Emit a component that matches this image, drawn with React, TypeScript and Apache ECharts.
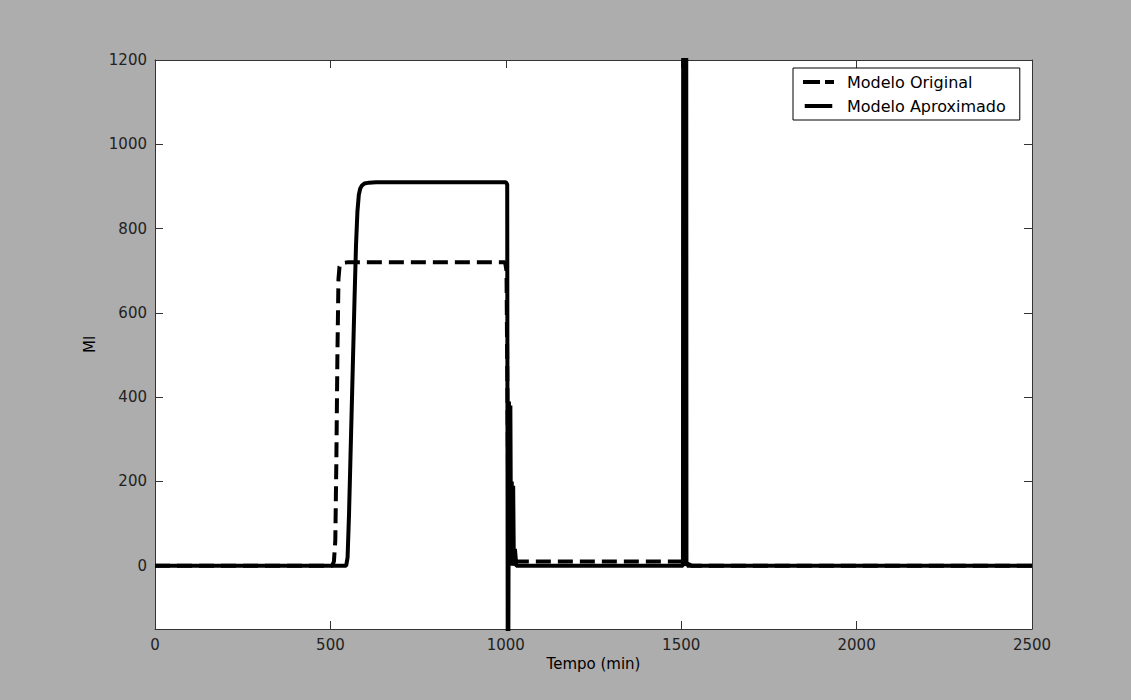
import React, { useEffect, useRef } from "react";
import * as echarts from "echarts";

const xTicks = [0, 500, 1000, 1500, 2000, 2500];
const yTicks = [0, 200, 400, 600, 800, 1000, 1200];
const seriesNames = ["Modelo Original", "Modelo Aproximado"];
const xLabel = "Tempo (min)";
const yLabel = "Ml";

// Modelo Original (dashed)
const originalT = [0, 505, 510, 514, 517, 520, 523, 526, 530, 538, 550, 998, 1002, 1008, 1015, 1030, 1502, 1506, 2500];
const originalV = [0, 0, 10, 60, 250, 500, 680, 710, 716, 719, 720, 720, 700, 30, 12, 10, 10, 0, 0];

// Modelo Aproximado (solid)
const aproxT = [0, 545, 549, 553, 557, 561, 565, 569, 573, 577, 581, 585, 590, 597, 610, 630, 1000, 1004, 1006, 1009, 1011, 1013, 1015, 1017, 1019, 1021, 1023, 1026, 1030, 1040, 1505, 1507, 1513, 1515, 1519, 1530, 2500];
const aproxV = [0, 0, 20, 120, 250, 380, 510, 640, 760, 840, 880, 895, 902, 907, 909, 910, 910, 905, -600, 390, 0, 380, 0, 200, 0, 190, 0, 40, 0, 0, 0, 4000, 4000, 0, 5, 0, 0];

const zip = (a: number[], b: number[]) => a.map((v, i) => [v, b[i]]);

const dashedIcon = "path://M0,0h17v4h-17z M22,0h9v4h-9z";
const solidIcon = "path://M0,0h31v4.5h-31z";

export default function App() {
  const ref = useRef<HTMLDivElement>(null);
  useEffect(() => {
    document.body.style.margin = "0";
    const chart = echarts.init(ref.current!, null, { renderer: "svg" });
    const font = "DejaVu Sans";
    const axisColor = "#333333";
    const lineStyle = { color: axisColor, width: 1 };
    const tickStyle = { inside: true, length: 8, lineStyle };
    const fmt = (v: number) => String(v);
    chart.setOption({
      animation: false,
      backgroundColor: "#adadad",
      grid: {
        left: 155,
        right: 99,
        top: 60,
        bottom: 71,
        show: true,
        backgroundColor: "#ffffff",
        borderWidth: 0,
      },
      legend: {
        orient: "vertical",
        left: 793,
        top: 68,
        backgroundColor: "#ffffff",
        borderColor: "#000000",
        borderWidth: 1,
        borderRadius: 0,
        padding: [6, 14, 6, 10],
        itemWidth: 31,
        itemHeight: 4,
        itemGap: 8,
        textStyle: { fontFamily: font, fontSize: 16, color: "#000", padding: [0, 0, 0, 8] },
        data: [
          { name: seriesNames[0], icon: dashedIcon },
          { name: seriesNames[1], icon: solidIcon },
        ],
      },
      xAxis: [
        {
          type: "value",
          position: "bottom",
          min: xTicks[0],
          max: xTicks[xTicks.length - 1],
          interval: 500,
          name: xLabel,
          nameLocation: "middle",
          nameGap: 26,
          nameTextStyle: { fontFamily: font, fontSize: 15, color: "#000" },
          axisLine: { show: true, onZero: false, lineStyle },
          axisTick: tickStyle,
          axisLabel: { margin: 8, fontFamily: font, fontSize: 15, color: "#222", formatter: fmt },
          splitLine: { show: false },
        },
        {
          type: "value",
          position: "top",
          min: xTicks[0],
          max: xTicks[xTicks.length - 1],
          interval: 500,
          axisLine: { show: true, onZero: false, lineStyle },
          axisTick: tickStyle,
          axisLabel: { show: false },
          splitLine: { show: false },
        },
      ],
      yAxis: [
        {
          type: "value",
          position: "left",
          min: -150,
          max: 1200,
          name: yLabel,
          nameLocation: "middle",
          nameGap: 53,
          nameTextStyle: { fontFamily: font, fontSize: 15, color: "#000" },
          axisLine: { show: true, onZero: false, lineStyle },
          axisTick: { ...tickStyle, customValues: yTicks },
          axisLabel: { margin: 8, fontFamily: font, fontSize: 15, color: "#222", customValues: yTicks, formatter: fmt },
          splitLine: { show: false },
        },
        {
          type: "value",
          position: "right",
          min: -150,
          max: 1200,
          axisLine: { show: true, onZero: false, lineStyle },
          axisTick: { ...tickStyle, customValues: yTicks },
          axisLabel: { show: false, customValues: yTicks },
          splitLine: { show: false },
        },
      ],
      series: [
        {
          name: seriesNames[0],
          type: "line",
          xAxisIndex: 0,
          yAxisIndex: 0,
          data: zip(originalT, originalV),
          symbol: "none",
          showSymbol: false,
          clip: true,
          itemStyle: { color: "#000" },
          lineStyle: { color: "#000", width: 4, type: [15, 7] },
          z: 2,
        },
        {
          name: seriesNames[1],
          type: "line",
          xAxisIndex: 0,
          yAxisIndex: 0,
          data: zip(aproxT, aproxV),
          symbol: "none",
          showSymbol: false,
          clip: true,
          itemStyle: { color: "#000" },
          lineStyle: { color: "#000", width: 4, type: "solid" },
          z: 3,
        },
      ],
    });
    return () => chart.dispose();
  }, []);
  return <div ref={ref} style={{ width: 1131, height: 700 }} />;
}
